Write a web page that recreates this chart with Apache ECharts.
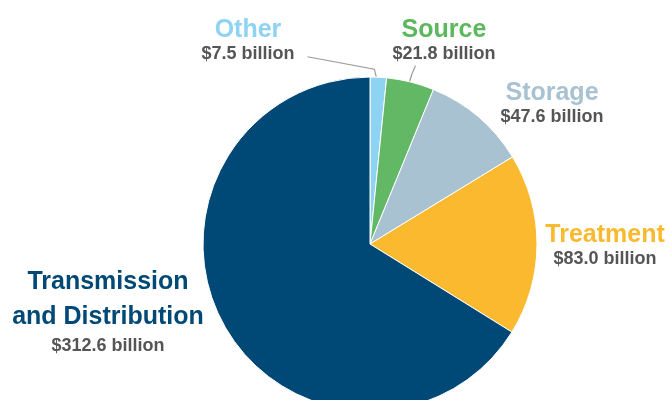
<!DOCTYPE html>
<html>
<head>
<meta charset="utf-8">
<script src="https://cdn.jsdelivr.net/npm/echarts@6/dist/echarts.min.js"></script>
<style>html,body{margin:0;padding:0;background:#fff}#c{width:670px;height:400px}</style>
</head>
<body>
<div id="c"></div>
<script>
var categories = ['Other', 'Source', 'Storage', 'Treatment', 'Transmission\nand Distribution'];
var values = [7.5, 21.8, 47.6, 83.0, 312.6];
var sliceColors = ['#8fd3f2', '#62b864', '#a8c2d2', '#fbb92f', '#004875'];
var labelColors = ['#8fd3f2', '#5cb85c', '#a8c2d2', '#fbb92f', '#004875'];
// label block centers (layout only)
var labelPos = [[248, 41], [444, 41], [552, 104], [605, 246], [108, 311]];

var chart = echarts.init(document.getElementById('c'), null, {renderer: 'canvas'});
var data = categories.map(function (n, i) {
  return {
    name: n,
    value: values[i],
    itemStyle: {color: sliceColors[i]},
    labelLine: {show: i < 2}
  };
});
function nm(i, lh) {
  return {fontSize: 25, fontWeight: 'bold', lineHeight: lh, color: labelColors[i], fontFamily: 'Liberation Sans'};
}
chart.setOption({
  animation: false,
  series: [{
    type: 'pie',
    center: [370, 244],
    radius: 167,
    startAngle: 90,
    clockwise: true,
    itemStyle: {borderColor: '#fff', borderWidth: 1},
    data: data,
    label: {
      show: true,
      position: 'outside',
      overflow: 'none',
      edgeDistance: 0,
      fontFamily: 'Liberation Sans',
      formatter: function (p) {
        var i = p.dataIndex;
        var nameStyle = 'name' + i;
        var valStyle = i === 4 ? 'valT' : 'val';
        return '{' + nameStyle + '|' + p.name + '}\n{' + valStyle + '|$' + p.value.toFixed(1) + ' billion}';
      },
      rich: {
        name0: nm(0, 26), name1: nm(1, 26), name2: nm(2, 26), name3: nm(3, 26), name4: nm(4, 35),
        val: {fontSize: 18, fontWeight: 'bold', lineHeight: 22, color: '#555555', fontFamily: 'Liberation Sans'},
        valT: {fontSize: 18, fontWeight: 'bold', lineHeight: 23, color: '#555555', fontFamily: 'Liberation Sans'}
      }
    },
    labelLine: {
      show: false,
      lineStyle: {color: '#9a9a9a', width: 1.2}
    },
    labelLayout: function (p) {
      var i = p.dataIndex;
      var pos = labelPos[i];
      var out = {x: pos[0], y: pos[1], align: 'center', verticalAlign: 'middle', hideOverlap: false, moveOverlap: null};
      var w = p.labelRect.width, h = p.labelRect.height;
      var pts = p.labelLinePoints;
      if (pts && pts.length) {
        var s = pts[0];
        if (i === 0) {
          out.labelLinePoints = [[s[0] - 2, s[1]], [s[0] - 4, s[1] - 8], [pos[0] + w / 2 + 13, pos[1] + h / 2 - 7]];
        } else if (i === 1) {
          var e = [s[0] + 5, pos[1] + h / 2 + 2];
          out.labelLinePoints = [[s[0] - 1, s[1]], [(s[0] + e[0]) / 2 - 1, (s[1] + e[1]) / 2], e];
        }
      }
      return out;
    }
  }]
});
</script>
</body>
</html>
